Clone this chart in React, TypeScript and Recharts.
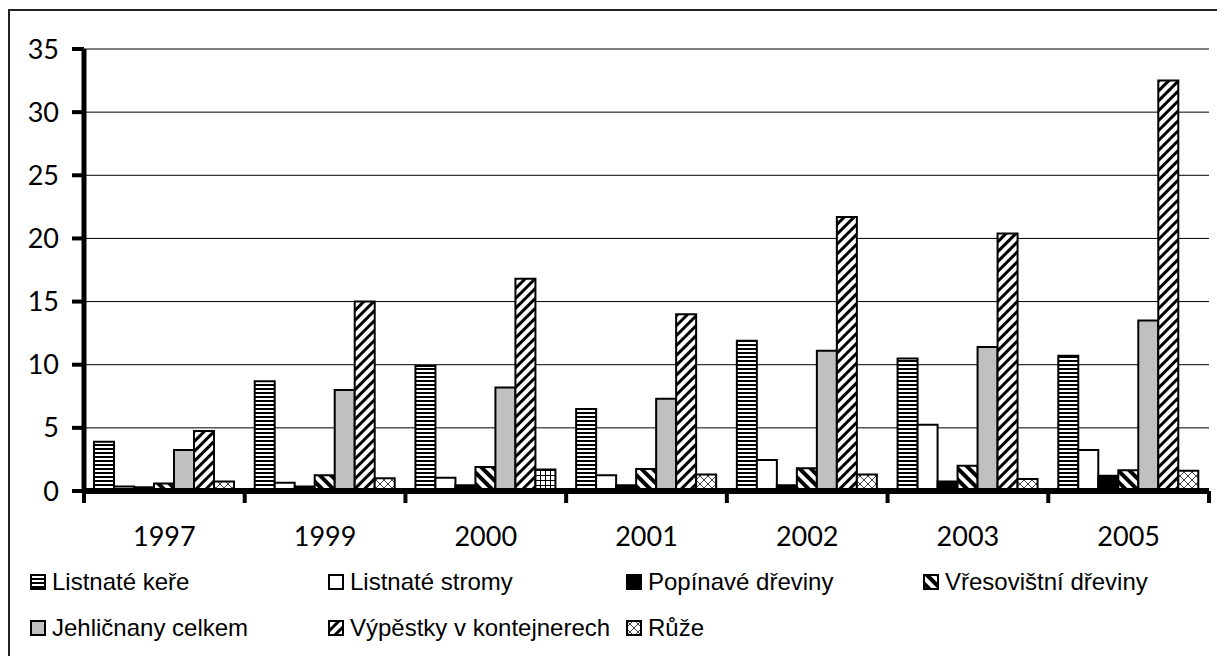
import React from 'react'
import { BarChart, Bar, XAxis, YAxis, CartesianGrid, Cell } from 'recharts'

const years = ['1997', '1999', '2000', '2001', '2002', '2003', '2005']
const listnateKere = [3.9, 8.7, 9.9, 6.5, 11.9, 10.5, 10.7]
const listnateStromy = [0.35, 0.65, 1.05, 1.25, 2.45, 5.25, 3.25]
const popinave = [0.3, 0.35, 0.45, 0.45, 0.45, 0.75, 1.2]
const vresovistni = [0.6, 1.25, 1.9, 1.75, 1.8, 2.0, 1.65]
const jehlicnany = [3.25, 8.0, 8.2, 7.3, 11.1, 11.4, 13.5]
const vypestky = [4.75, 15.0, 16.8, 14.0, 21.7, 20.4, 32.5]
const ruze = [0.75, 1.0, 1.7, 1.3, 1.3, 0.95, 1.6]
const yTicks = [0, 5, 10, 15, 20, 25, 30, 35]

// the 2000 Růže bar is drawn with a grid fill in the original
const gridRuzeYear = '2000'

const series = [
  { key: 'kere', name: 'Listnaté keře', values: listnateKere, fill: 'url(#pHoriz)' },
  { key: 'stromy', name: 'Listnaté stromy', values: listnateStromy, fill: '#ffffff' },
  { key: 'popinave', name: 'Popínavé dřeviny', values: popinave, fill: '#000000' },
  { key: 'vres', name: 'Vřesovištní dřeviny', values: vresovistni, fill: 'url(#pBack)' },
  { key: 'jehl', name: 'Jehličnany celkem', values: jehlicnany, fill: '#c0c0c0' },
  { key: 'vyp', name: 'Výpěstky v kontejnerech', values: vypestky, fill: 'url(#pFwd)' },
  { key: 'ruze', name: 'Růže', values: ruze, fill: 'url(#pCross)' },
]

const data = years.map((year, i) => {
  const row: Record<string, string | number> = { year }
  series.forEach(s => {
    row[s.key] = s.values[i]
  })
  return row
})

const legendCols = [30, 328, 626, 923]
const legendRows = [568, 614]

const X_TICK_SIZE = 6
const X_TICK_MARGIN = 30

const Patterns = () => (
  <svg width={0} height={0} style={{ position: 'absolute' }}>
    <defs>
      <pattern id="pHoriz" patternUnits="userSpaceOnUse" width={4} height={4}>
        <rect width={4} height={4} fill="#fff" />
        <rect width={4} height={2} fill="#000" />
      </pattern>
      <pattern id="pBack" patternUnits="userSpaceOnUse" width={8} height={8} patternTransform="rotate(-45)">
        <rect width={8} height={8} fill="#fff" />
        <rect width={4} height={8} fill="#000" />
      </pattern>
      <pattern id="pFwd" patternUnits="userSpaceOnUse" width={7} height={7} patternTransform="rotate(45)">
        <rect width={7} height={7} fill="#fff" />
        <rect width={3} height={7} fill="#000" />
      </pattern>
      <pattern id="pCross" patternUnits="userSpaceOnUse" width={8} height={8}>
        <rect width={8} height={8} fill="#fff" />
        <path d="M0 0L8 8M8 0L0 8" stroke="#444" strokeWidth={1} />
      </pattern>
      <pattern id="pGrid" patternUnits="userSpaceOnUse" width={5} height={5}>
        <rect width={5} height={5} fill="#fff" />
        <path d="M0 0.5H5M0.5 0V5" stroke="#000" strokeWidth={1} />
      </pattern>
    </defs>
  </svg>
)

const tickFont = { fontFamily: 'Lato', fontSize: 27, fill: '#000' }

// year label plus the category boundary ticks (Excel puts them between groups)
const YearTick = (props: any) => {
  const { x, y, payload, index, width, visibleTicksCount } = props
  const half = width / visibleTicksCount / 2
  const axisY = y - X_TICK_SIZE - X_TICK_MARGIN
  return (
    <g>
      <line x1={x - half} x2={x - half} y1={axisY} y2={axisY + 12} stroke="#000" strokeWidth={4} />
      {index === visibleTicksCount - 1 ? (
        <line x1={x + half} x2={x + half} y1={axisY} y2={axisY + 12} stroke="#000" strokeWidth={4} />
      ) : null}
      <text x={x} y={y} dy="0.71em" textAnchor="middle" {...tickFont}>
        {payload.value}
      </text>
    </g>
  )
}

export default function App() {
  return (
    <div
      style={{
        position: 'fixed',
        left: 0,
        top: 0,
        width: 1217,
        height: 656,
        overflow: 'hidden',
        background: '#fff',
      }}
    >
      <Patterns />
      <div
        style={{
          position: 'absolute',
          left: 8,
          top: 9,
          width: 1230,
          height: 670,
          border: '2px solid #222',
        }}
      />
      <div style={{ position: 'absolute', left: 0, top: 0 }}>
        <BarChart
          width={1217}
          height={656}
          data={data}
          margin={{ top: 49, right: 8, left: 0, bottom: 115 }}
          barGap={0}
          barCategoryGap={10}
        >
          <CartesianGrid horizontal vertical={false} stroke="#000" strokeWidth={1} />
          <XAxis
            dataKey="year"
            height={50}
            interval={0}
            tickLine={false}
            axisLine={{ stroke: '#000', strokeWidth: 6 }}
            tickSize={X_TICK_SIZE}
            tickMargin={X_TICK_MARGIN}
            tick={<YearTick />}
          />
          <YAxis
            width={84}
            domain={[0, 35]}
            ticks={yTicks}
            interval={0}
            tickSize={12}
            tickMargin={13}
            tick={tickFont}
            tickLine={{ stroke: '#000', strokeWidth: 4 }}
            axisLine={{ stroke: '#000', strokeWidth: 5 }}
          />
          {series.map(s => (
            <Bar
              key={s.key}
              dataKey={s.key}
              name={s.name}
              fill={s.fill}
              stroke="#000"
              strokeWidth={2}
              isAnimationActive={false}
            >
              {s.key === 'ruze'
                ? years.map(y => <Cell key={y} fill={y === gridRuzeYear ? 'url(#pGrid)' : s.fill} />)
                : null}
            </Bar>
          ))}
        </BarChart>
      </div>
      {series.map((s, i) => {
        const col = i % 4
        const row = Math.floor(i / 4)
        const left = legendCols[col]
        const top = legendRows[row]
        return (
          <div
            key={s.key}
            style={{
              position: 'absolute',
              left,
              top,
              height: 28,
              display: 'flex',
              alignItems: 'center',
              fontFamily: '"Liberation Sans", Arial, sans-serif',
              fontSize: 24,
              lineHeight: '28px',
              color: '#000',
              whiteSpace: 'nowrap',
            }}
          >
            <svg width={16} height={16} style={{ marginRight: 6 }}>
              <rect x={1} y={1} width={14} height={14} fill={s.fill} stroke="#000" strokeWidth={2} />
            </svg>
            <span>{s.name}</span>
          </div>
        )
      })}
    </div>
  )
}
